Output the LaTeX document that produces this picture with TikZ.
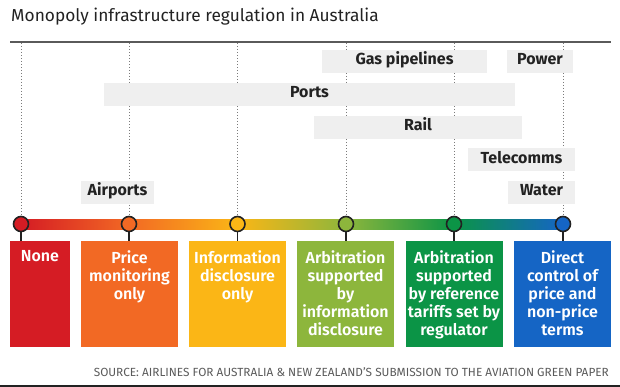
\documentclass[tikz,border=0pt]{standalone}
\usepackage{fontspec}
\setmainfont{Fira Sans}
\newfontfamily\semifont{Fira Sans}[UprightFont=* SemiBold]
\usetikzlibrary{positioning}

\definecolor{cred}{HTML}{D51C24}
\definecolor{corange}{HTML}{F26924}
\definecolor{cyellow}{HTML}{FBB616}
\definecolor{clime}{HTML}{8DB63C}
\definecolor{cgreen}{HTML}{0B9446}
\definecolor{cblue}{HTML}{1565C5}
\definecolor{cbar}{HTML}{EFEFEF}
\definecolor{cink}{HTML}{222222}
\definecolor{cgrey}{HTML}{5A5A5A}

\tikzset{
  sector/.style={fill=cbar, inner sep=0pt, minimum height=23pt,
    text height=11pt, text depth=4pt, text=cink,
    font=\bfseries\fontsize{16}{16}\selectfont},
  level/.style={circle, draw=cink, line width=1.6pt, minimum size=15pt, inner sep=0pt},
  lvlbox/.style={anchor=north, inner sep=0pt, minimum height=106pt},
  lvltext/.style={anchor=north, inner sep=0pt, text=white, align=center,
    font=\semifont\fontsize{16}{18}\selectfont},
  guide/.style={cgrey!80, line width=0.8pt, dash pattern=on 0.8pt off 2.2pt},
}

\begin{document}
\begin{tikzpicture}[x=1pt,y=-1pt]
  \useasboundingbox (0,0) rectangle (620,387);

  % title and rules
  \node[anchor=base west, inner sep=0pt, text=cink, font=\fontsize{17.3}{17.3}\selectfont]
    (title) at (11,21.7) {Monopoly infrastructure regulation in Australia};
  \draw[cgrey, line width=1.2pt] (10,42) -- (611,42);
  \draw[cink, line width=2pt] (0,385.5) -- (620,385.5);

  % levels along the scale
  \foreach \n/\x in {1/21,2/129,3/237.5,4/346,5/454,6/563}{
    \coordinate (p\n) at (\x,224);
    \coordinate (top\n) at (\x,43);
    \draw[guide] (top\n) -- (p\n);
  }

  % sectors
  \node[sector, minimum width=165pt] (gas) at (404.5,61.5) {Gas pipelines};
  \node[sector, minimum width=66pt] (power) at (540,61.5) {Power};
  \node[sector, minimum width=411pt] (ports) at (309.5,94.5) {Ports};
  \node[sector, minimum width=208pt] (rail) at (418,127.5) {Rail};
  \node[sector, minimum width=107pt] (telecomms) at (521.5,160) {Telecomms};
  \node[sector, minimum width=67pt] (water) at (541.5,192.5) {Water};
  \node[sector, minimum width=73pt] (airports) at (117.5,192.5) {Airports};

  % coloured scale
  \shade[left color=cred, right color=corange] ([yshift=5pt]p1) rectangle ([yshift=-5pt]p2);
  \shade[left color=corange, right color=cyellow] ([yshift=5pt]p2) rectangle ([yshift=-5pt]p3);
  \shade[left color=cyellow, right color=clime] ([yshift=5pt]p3) rectangle ([yshift=-5pt]p4);
  \shade[left color=clime, right color=cgreen] ([yshift=5pt]p4) rectangle ([yshift=-5pt]p5);
  \shade[left color=cgreen, right color=cblue] ([yshift=5pt]p5) rectangle ([yshift=-5pt]p6);

  % boxes
  \node[lvlbox, fill=cred, minimum width=60pt] (b1) at (40,241) {};
  \node[lvlbox, fill=corange, minimum width=97pt] (b2) at (129.5,241) {};
  \node[lvlbox, fill=cyellow, minimum width=97pt] (b3) at (237.5,241) {};
  \node[lvlbox, fill=clime, minimum width=97pt] (b4) at (345.5,241) {};
  \node[lvlbox, fill=cgreen, minimum width=97pt] (b5) at (454,241) {};
  \node[lvlbox, fill=cblue, minimum width=97pt] (b6) at (562.5,241) {};

  \foreach \n/\c in {1/cred,2/corange,3/cyellow,4/clime,5/cgreen,6/cblue}{
    \node[level, fill=\c] (l\n) at (p\n) {};
    \draw[cink, line width=1.2pt] (l\n.south) -- (l\n.south |- b\n.north);
  }

  \node[lvltext] (t1) at ([yshift=-9pt]b1.north) {None};
  \node[lvltext] (t2) at ([yshift=-9pt]b2.north) {Price\\monitoring\\only};
  \node[lvltext] (t3) at ([yshift=-9pt]b3.north) {Information\\disclosure\\only};
  \node[lvltext] (t4) at ([yshift=-9pt]b4.north) {Arbitration\\supported\\by\\information\\disclosure};
  \node[lvltext] (t5) at ([yshift=-9pt]b5.north) {Arbitration\\supported\\by reference\\tariffs set by\\regulator};
  \node[lvltext] (t6) at ([yshift=-9pt]b6.north) {Direct\\control of\\price and\\non-price\\terms};

  % source
  \node[anchor=base east, inner sep=0pt, text=cgrey, font=\fontsize{11.8}{11.8}\selectfont]
    (source) at (609,376.7) {SOURCE: AIRLINES FOR AUSTRALIA \& NEW ZEALAND'S SUBMISSION TO THE AVIATION GREEN PAPER};
\end{tikzpicture}
\end{document}
